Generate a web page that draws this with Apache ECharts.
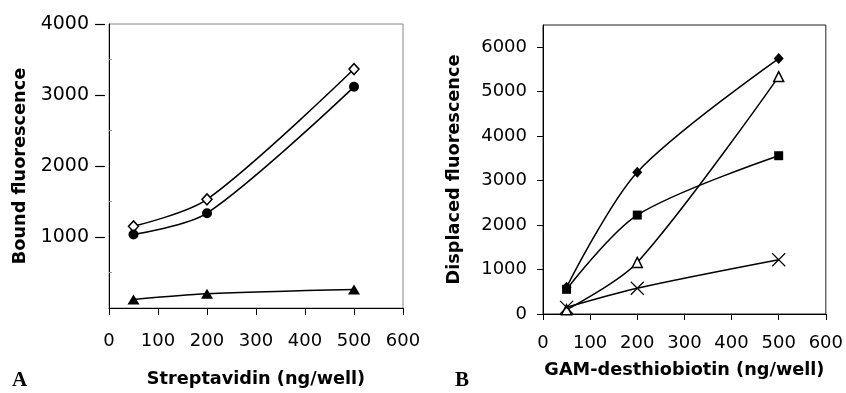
<!DOCTYPE html>
<html><head><meta charset="utf-8">
<script src="https://cdn.jsdelivr.net/npm/echarts@6/dist/echarts.min.js"></script>
<style>html,body{margin:0;padding:0;background:#fff}#c{width:846px;height:393px}</style>
</head><body><div id="c"></div>
<script>
// Panel A data
const xA = [50, 200, 500];
const openDiamondA = [1150, 1530, 3365];
const filledCircleA = [1035, 1335, 3115];
const filledTriangleA = [120, 200, 260];
// Panel B data
const xB = [50, 200, 500];
const filledDiamondB = [600, 3190, 5745];
const openTriangleB = [95, 1160, 5340];
const filledSquareB = [555, 2225, 3560];
const crossB = [150, 580, 1220];
// ticks
const xTicks = [0, 100, 200, 300, 400, 500, 600];
const yTicksA = [1000, 2000, 3000, 4000];
const yMinorA = [500, 1500, 2500, 3500];
const yTicksB = [0, 1000, 2000, 3000, 4000, 5000, 6000];

const pairs = (xs, ys) => xs.map((x, i) => [x, ys[i]]);
const chart = echarts.init(document.getElementById('c'), null, {renderer: 'canvas'});
const black = '#000';
const plain = (v) => String(v);
const lab = (size) => ({color: black, fontFamily: 'DejaVu Sans', fontSize: size, formatter: plain});
const titleStyle = {color: black, fontFamily: 'DejaVu Sans', fontWeight: 'bold', fontSize: 17.7};
const lineSeries = (xi, yi, xs, ys, symbol, size, fill, bw) => ({
  type: 'line', xAxisIndex: xi, yAxisIndex: yi, data: pairs(xs, ys), smooth: 0.3,
  symbol: symbol, symbolSize: size, showAllSymbol: true,
  lineStyle: {color: black, width: 1.5},
  itemStyle: {color: fill, borderColor: black, borderWidth: bw},
  emphasis: {disabled: true}, animation: false, z: 3
});
chart.setOption({
  animation: false,
  grid: [
    {left: 109, right: 443, top: 24, bottom: 82, show: true, borderColor: '#888', borderWidth: 1, backgroundColor: 'transparent'},
    {left: 543, right: 16, top: 25, bottom: 79, show: true, borderColor: '#222', borderWidth: 1, backgroundColor: 'transparent'}
  ],
  xAxis: [
    {type: 'value', gridIndex: 0, min: 0, max: 600, interval: 100,
     axisLine: {show: true, onZero: false, lineStyle: {color: black, width: 1}},
     axisTick: {show: true, length: 7, lineStyle: {color: black}, customValues: xTicks},
     axisLabel: {margin: 24, customValues: xTicks, ...lab(18)},
     splitLine: {show: false},
     name: 'Streptavidin (ng/well)', nameLocation: 'middle', nameGap: 62, nameTextStyle: titleStyle},
    {type: 'value', gridIndex: 1, min: 0, max: 600, interval: 100,
     axisLine: {show: true, onZero: false, lineStyle: {color: black, width: 1}},
     axisTick: {show: true, length: 6, lineStyle: {color: black}, customValues: xTicks},
     axisLabel: {margin: 20, customValues: xTicks, ...lab(18)},
     splitLine: {show: false},
     name: 'GAM-desthiobiotin (ng/well)', nameLocation: 'middle', nameGap: 47, nameTextStyle: titleStyle}
  ],
  yAxis: [
    {type: 'value', gridIndex: 0, position: 'left', min: 0, max: 4000, interval: 1000, offset: 4,
     axisLine: {show: true, onZero: false, lineStyle: {color: 'rgba(0,0,0,0)', width: 1}},
     axisTick: {show: true, length: 10, lineStyle: {color: black, width: 1.2}, customValues: yTicksA},
     axisLabel: {margin: 16, customValues: yTicksA, ...lab(19)},
     splitLine: {show: false}},
    {type: 'value', gridIndex: 0, position: 'left', min: 0, max: 4000, interval: 500,
     axisLine: {show: true, onZero: false, lineStyle: {color: black, width: 1}},
     axisTick: {show: true, inside: true, length: 3, lineStyle: {color: '#999'}, customValues: yMinorA},
     axisLabel: {show: false},
     splitLine: {show: false},
     name: 'Bound fluorescence', nameLocation: 'middle', nameGap: 80, nameTextStyle: titleStyle},
    {type: 'value', gridIndex: 1, position: 'left', min: 0, max: 6500, interval: 500,
     axisLine: {show: true, onZero: false, lineStyle: {color: black, width: 1}},
     axisTick: {show: true, length: 6, lineStyle: {color: black}, customValues: yTicksB},
     axisLabel: {margin: 16, customValues: yTicksB, ...lab(18)},
     splitLine: {show: false},
     name: 'Displaced fluorescence', nameLocation: 'middle', nameGap: 80, nameTextStyle: titleStyle}
  ],
  series: [
    lineSeries(0, 0, xA, openDiamondA, 'diamond', [10, 11], '#fff', 1.5),
    lineSeries(0, 0, xA, filledCircleA, 'circle', 10, black, 0),
    lineSeries(0, 0, xA, filledTriangleA, 'triangle', [12, 10], black, 0),
    lineSeries(1, 2, xB, filledDiamondB, 'diamond', [10, 11], black, 0),
    lineSeries(1, 2, xB, openTriangleB, 'triangle', [10, 10], '#fff', 1.5),
    lineSeries(1, 2, xB, filledSquareB, 'rect', [9, 9], black, 0),
    lineSeries(1, 2, xB, crossB, 'path://M0,0L10,10M10,0L0,10', [13, 13], 'none', 1.2)
  ],
  graphic: [
    {type: 'text', left: 12, top: 370, style: {text: 'A', font: 'bold 21px "Liberation Serif"', fill: black}},
    {type: 'text', left: 455, top: 370, style: {text: 'B', font: 'bold 21px "Liberation Serif"', fill: black}}
  ]
});
</script></body></html>
